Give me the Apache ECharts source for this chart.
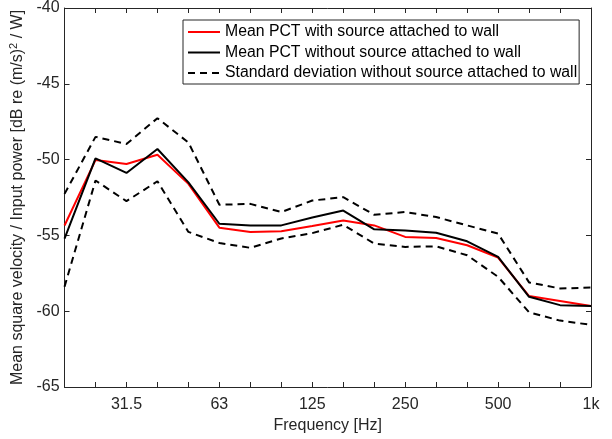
<!DOCTYPE html>
<html>
<head>
<meta charset="utf-8">
<script src="https://cdn.jsdelivr.net/npm/echarts@6/dist/echarts.min.js"></script>
<style>html,body{margin:0;padding:0;background:#fff;}#c{width:612px;height:439px;}</style>
</head>
<body>
<div id="c"></div>
<script>
const categories = ['20','25','31.5','40','50','63','80','100','125','160','200','250','315','400','500','630','800','1k'];
const meanWith    = [-54.35,-50.03,-50.29,-49.68,-51.6,-54.49,-54.77,-54.73,-54.38,-54.01,-54.34,-55.1,-55.17,-55.65,-56.46,-59.0,-59.33,-59.66];
const meanWithout = [-55.21,-49.92,-50.88,-49.3,-51.5,-54.23,-54.34,-54.34,-53.82,-53.36,-54.6,-54.67,-54.82,-55.39,-56.42,-59.05,-59.6,-59.66];
const stdUpper    = [-52.26,-48.5,-48.97,-47.27,-48.87,-52.98,-52.92,-53.46,-52.7,-52.48,-53.64,-53.46,-53.79,-54.34,-54.88,-58.1,-58.5,-58.44];
const stdLower    = [-58.39,-51.38,-52.74,-51.43,-54.77,-55.5,-55.82,-55.2,-54.85,-54.3,-55.54,-55.76,-55.72,-56.31,-57.73,-60.07,-60.62,-60.9];
const yTicks = {min:-65, max:-40, interval:5};
const legendNames = ['Mean PCT with source attached to wall','Mean PCT without source attached to wall','Standard deviation without source attached to wall'];

const axisColor = '#262626';
const font = 'Liberation Sans, Arial, Helvetica, sans-serif';
const chart = echarts.init(document.getElementById('c'), null, {renderer:'canvas'});
chart.setOption({
  animation:false,
  backgroundColor:'#fff',
  grid:{left:64, right:21, top:8, bottom:50, containLabel:false},
  legend:{
    orient:'vertical', left:183, top:20,
    data:legendNames,
    backgroundColor:'#fff', borderColor:axisColor, borderWidth:1,
    padding:[4,2,3,4], itemGap:4.5, itemWidth:32, itemHeight:16,
    itemStyle:{opacity:0},
    textStyle:{fontFamily:font, fontSize:15.8, color:'#000'}
  },
  xAxis:[{
    type:'category', data:categories, boundaryGap:false, position:'bottom',
    name:'Frequency [Hz]', nameLocation:'middle', nameGap:31,
    nameTextStyle:{fontFamily:font, fontSize:16, color:axisColor},
    axisLine:{lineStyle:{color:axisColor, width:1}},
    axisTick:{inside:true, length:5, interval:0, lineStyle:{color:axisColor}},
    axisLabel:{interval:function(i){return i%3===2;}, fontFamily:font, fontSize:16, color:axisColor, margin:10},
    splitLine:{show:false}
  },{
    type:'category', data:categories, boundaryGap:false, position:'top',
    axisLine:{lineStyle:{color:axisColor, width:1}},
    axisTick:{inside:true, length:5, interval:0, lineStyle:{color:axisColor}},
    axisLabel:{show:false}, splitLine:{show:false}
  }],
  yAxis:[{
    type:'value', min:yTicks.min, max:yTicks.max, interval:yTicks.interval, position:'left',
    name:'Mean square velocity / Input power [dB re (m/s){sup|2} / W]',
    nameLocation:'middle', nameGap:32,
    nameTextStyle:{fontFamily:font, fontSize:16, color:axisColor,
      rich:{sup:{fontFamily:font, fontSize:11, color:axisColor, verticalAlign:'top', padding:[0,0,8,0]}}},
    axisLine:{show:true, lineStyle:{color:axisColor, width:1}},
    axisTick:{show:true, inside:true, length:5, lineStyle:{color:axisColor}},
    axisLabel:{fontFamily:font, fontSize:16, color:axisColor, margin:5},
    splitLine:{show:false}
  },{
    type:'value', min:yTicks.min, max:yTicks.max, interval:yTicks.interval, position:'right',
    axisLine:{show:true, lineStyle:{color:axisColor, width:1}},
    axisTick:{show:true, inside:true, length:5, lineStyle:{color:axisColor}},
    axisLabel:{show:false}, splitLine:{show:false}
  }],
  series:[
    {name:legendNames[0], type:'line', data:meanWith, symbol:'none', z:3,
     lineStyle:{color:'#ff0000', width:2}, itemStyle:{color:'#ff0000'}},
    {name:legendNames[1], type:'line', data:meanWithout, symbol:'none', z:4,
     lineStyle:{color:'#000', width:2}, itemStyle:{color:'#000'}},
    {name:legendNames[2], type:'line', data:stdUpper, symbol:'none', z:2,
     lineStyle:{color:'#000', width:2, type:[7,5]}, itemStyle:{color:'#000'}},
    {name:legendNames[2], type:'line', data:stdLower, symbol:'none', z:2,
     lineStyle:{color:'#000', width:2, type:[7,5]}, itemStyle:{color:'#000'}}
  ]
});
</script>
</body>
</html>
